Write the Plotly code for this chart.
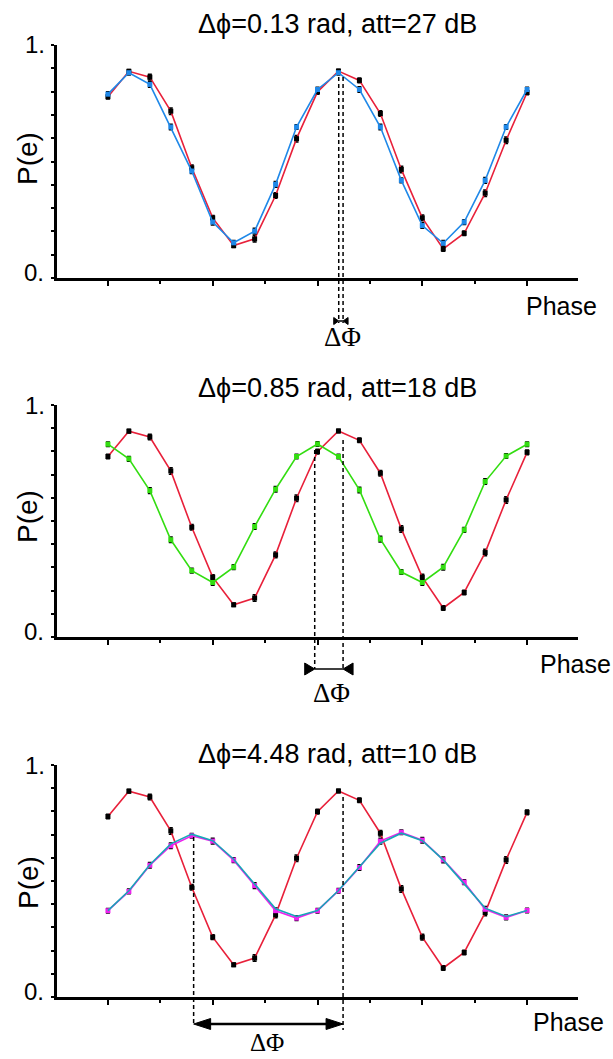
import math
import plotly.graph_objects as go

# ---------------- data ----------------
phase_idx = list(range(21))

red_ref = [0.778, 0.887, 0.862, 0.716, 0.473, 0.258, 0.139, 0.168, 0.354, 0.598, 0.799,
           0.888, 0.848, 0.706, 0.466, 0.258, 0.125, 0.192, 0.364, 0.591, 0.796]
red_err = [0.010, 0.008, 0.012, 0.014, 0.012, 0.010, 0.008, 0.014, 0.012, 0.014, 0.010,
           0.008, 0.010, 0.012, 0.014, 0.012, 0.010, 0.010, 0.014, 0.014, 0.010]

blue_p1 = [0.789, 0.881, 0.831, 0.648, 0.459, 0.240, 0.151, 0.201, 0.402, 0.648, 0.809,
           0.881, 0.809, 0.648, 0.419, 0.225, 0.149, 0.240, 0.419, 0.648, 0.809]
green_p2 = [0.831, 0.768, 0.631, 0.419, 0.286, 0.235, 0.301, 0.476, 0.637, 0.778, 0.832,
            0.778, 0.634, 0.422, 0.280, 0.235, 0.301, 0.462, 0.670, 0.780, 0.831]
magenta_p3 = [0.372, 0.455, 0.568, 0.652, 0.695, 0.672, 0.590, 0.480, 0.372, 0.340, 0.372,
              0.458, 0.558, 0.672, 0.710, 0.676, 0.591, 0.495, 0.378, 0.343, 0.373]
cyan_p3 = [0.372, 0.458, 0.570, 0.660, 0.702, 0.674, 0.594, 0.488, 0.380, 0.347, 0.373,
           0.459, 0.562, 0.663, 0.706, 0.674, 0.591, 0.488, 0.383, 0.347, 0.373]
sig_err = [0.010, 0.010, 0.012, 0.012, 0.010, 0.012, 0.010, 0.012, 0.012, 0.010, 0.010,
           0.010, 0.012, 0.012, 0.010, 0.012, 0.012, 0.010, 0.012, 0.010, 0.010]

titles = ["\u0394\u03d5=0.13 rad, att=27 dB",
          "\u0394\u03d5=0.85 rad, att=18 dB",
          "\u0394\u03d5=4.48 rad, att=10 dB"]
delta_phi = [0.13, 0.85, 4.48]
ref_peak_x = 11.22
period_pts = 10
y_labels = ["0.", "1."]

# ---------------- layout geometry ----------------
OFF = 0
W, H = 613, 1059
AX_L, AX_R = 57, 578
XR = [-2.43, 22.43]
panels_px = [(45, 278), (405, 637), (765, 997)]  # (top, bottom) pixels

RED = "#e8203a"
BLUE = "#1f88e8"
GREEN = "#33dd11"
MAGENTA = "#ee22ee"
CYAN = "#17a7b7"
SANS = "Liberation Sans, Arial, sans-serif"
SERIF = "Liberation Serif, Times New Roman, serif"


def fx(px):
    return (px - OFF) / W


def fy(py):
    return 1 - (py - OFF) / H


def xdata_px(xv):
    return AX_L + (xv - XR[0]) / (XR[1] - XR[0]) * (AX_R - AX_L)


fig = go.Figure()

series = [
    [(blue_p1, BLUE, BLUE)],
    [(green_p2, GREEN, GREEN)],
    [(magenta_p3, MAGENTA, MAGENTA), (cyan_p3, CYAN, None)],
]

for k in range(3):
    xa = "x" if k == 0 else f"x{k+1}"
    ya = "y" if k == 0 else f"y{k+1}"
    fig.add_trace(go.Scatter(
        x=phase_idx, y=red_ref, xaxis=xa, yaxis=ya, mode="lines+markers",
        line=dict(color=RED, width=1.6),
        marker=dict(symbol="square", size=5, color="black"),
        error_y=dict(type="data", array=red_err, color="black", thickness=1.5, width=2),
        showlegend=False, cliponaxis=False))
    for vals, lc, mc in series[k]:
        if mc is not None:
            fig.add_trace(go.Scatter(
                x=phase_idx, y=vals, xaxis=xa, yaxis=ya, mode="lines+markers",
                line=dict(color=lc, width=1.6),
                marker=dict(symbol="square", size=5, color=mc),
                error_y=dict(type="data", array=sig_err, color="black", thickness=1.5, width=2),
                showlegend=False, cliponaxis=False))
        else:
            fig.add_trace(go.Scatter(
                x=phase_idx, y=vals, xaxis=xa, yaxis=ya, mode="lines",
                line=dict(color=lc, width=1.6), showlegend=False))

axis_common_x = dict(range=XR, showline=True, linecolor="black", linewidth=2.5,
                     ticks="outside", ticklen=5, tickwidth=2, tickcolor="black",
                     tickvals=[0, 5, 10, 15, 20], showticklabels=False, showgrid=False,
                     zeroline=False, domain=[fx(AX_L), fx(AX_R)],
                     minor=dict(tickvals=[2.5, 7.5, 12.5, 17.5], ticks="outside",
                                ticklen=3, tickwidth=2, tickcolor="black", showgrid=False))
axis_common_y = dict(range=[0, 1], showline=True, linecolor="black", linewidth=2.5,
                     ticks="outside", ticklen=3, tickwidth=2, tickcolor="black",
                     tickvals=[i / 10 for i in range(11)], showticklabels=False,
                     showgrid=False, zeroline=False)

layout = dict(width=W, height=H, margin=dict(l=0, r=0, t=0, b=0),
              paper_bgcolor="white", plot_bgcolor="white", showlegend=False)
for k in range(3):
    top, bot = panels_px[k]
    xkey = "xaxis" if k == 0 else f"xaxis{k+1}"
    ykey = "yaxis" if k == 0 else f"yaxis{k+1}"
    layout[xkey] = dict(axis_common_x, anchor="y" if k == 0 else f"y{k+1}")
    layout[ykey] = dict(axis_common_y, anchor="x" if k == 0 else f"x{k+1}",
                        domain=[fy(bot), fy(top)])
fig.update_layout(**layout)

annotations = []
shapes = []

title_y = [24, 388, 754]
phase_y = [306, 664, 1022]
phase_x = [561, 575, 568]
pe_y = [159, 517, 883]
for k in range(3):
    top, bot = panels_px[k]
    annotations.append(dict(text=titles[k], x=fx(337), y=fy(title_y[k]), xref="paper", yref="paper",
                            showarrow=False, xanchor="center", yanchor="middle",
                            font=dict(family=SANS, size=27, color="black")))
    annotations.append(dict(text="Phase", x=fx(phase_x[k]), y=fy(phase_y[k]), xref="paper", yref="paper",
                            showarrow=False, xanchor="center", yanchor="middle",
                            font=dict(family=SANS, size=25, color="black")))
    annotations.append(dict(text="P(e)", x=fx(28), y=fy(pe_y[k]), xref="paper", yref="paper",
                            showarrow=False, xanchor="center", yanchor="middle", textangle=-90,
                            font=dict(family=SANS, size=28, color="black")))
    annotations.append(dict(text=y_labels[1], x=fx(47), y=fy(top), xref="paper", yref="paper",
                            showarrow=False, xanchor="right", yanchor="middle",
                            font=dict(family=SANS, size=24, color="black")))
    annotations.append(dict(text=y_labels[0], x=fx(46), y=fy(bot - 6), xref="paper", yref="paper",
                            showarrow=False, xanchor="right", yanchor="middle",
                            font=dict(family=SANS, size=24, color="black")))

# Delta Phi markers
shift_pts = [d / (2 * math.pi) * period_pts for d in delta_phi]
dash_tops = [(77, 77), (450, 440), (837, 797)]
dash_bots = [(323, 323), (669, 669), (1024, 1030)]
arrow_y = [321, 669, 1024]
dphi_text_pos = [(342, 337), (331, 693), (267, 1042)]
dphi_size = [27, 27, 25]

for k in range(3):
    xr_px = xdata_px(ref_peak_x)
    xl_px = xdata_px(ref_peak_x - shift_pts[k])
    for xp, t, b in [(xl_px, dash_tops[k][0], dash_bots[k][0]), (xr_px, dash_tops[k][1], dash_bots[k][1])]:
        shapes.append(dict(type="line", xref="paper", yref="paper",
                           x0=fx(xp), x1=fx(xp), y0=fy(t), y1=fy(b),
                           line=dict(color="black", width=1.5, dash="4px,3px")))
    ay = arrow_y[k]
    if k == 2:
        hl, hh = 17, 5.5
        shapes.append(dict(type="line", xref="paper", yref="paper",
                           x0=fx(xl_px + 8), x1=fx(xr_px - 8), y0=fy(ay), y1=fy(ay),
                           line=dict(color="black", width=2.5)))
        for tip, base in [(xl_px, xl_px + hl), (xr_px, xr_px - hl)]:
            shapes.append(dict(type="path", xref="paper", yref="paper",
                               path=f"M {fx(tip)},{fy(ay)} L {fx(base)},{fy(ay - hh)} L {fx(base)},{fy(ay + hh)} Z",
                               fillcolor="black", line=dict(color="black", width=1)))
    else:
        hl, hh = (10, 6) if k == 1 else (5, 3.5)
        shapes.append(dict(type="line", xref="paper", yref="paper",
                           x0=fx(xl_px), x1=fx(xr_px), y0=fy(ay), y1=fy(ay),
                           line=dict(color="black", width=1.5)))
        for tip, base in [(xl_px, xl_px - hl), (xr_px, xr_px + hl)]:
            shapes.append(dict(type="path", xref="paper", yref="paper",
                               path=f"M {fx(tip)},{fy(ay)} L {fx(base)},{fy(ay - hh)} L {fx(base)},{fy(ay + hh)} Z",
                               fillcolor="black", line=dict(color="black", width=1)))
    tx, ty = dphi_text_pos[k]
    annotations.append(dict(text="\u0394\u03a6", x=fx(tx), y=fy(ty), xref="paper", yref="paper",
                            showarrow=False, xanchor="center", yanchor="middle",
                            font=dict(family=SERIF, size=dphi_size[k], color="black")))

fig.update_layout(annotations=annotations, shapes=shapes)
fig.write_html("out.html", config={"displayModeBar": False},
               post_script="document.body.style.margin='0';document.body.style.overflow='hidden';")
